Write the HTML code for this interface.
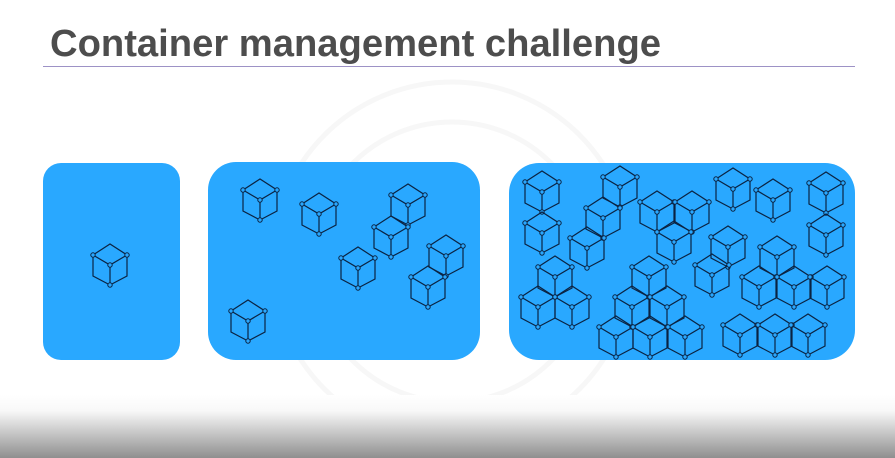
<!DOCTYPE html>
<html><head><meta charset="utf-8"><style>
html,body{margin:0;padding:0;background:#fff}
svg{display:block}
</style></head><body>
<svg width="895" height="458" viewBox="0 0 895 458" xmlns="http://www.w3.org/2000/svg">
<defs>
<linearGradient id="bg" x1="0" y1="0" x2="0" y2="1">
<stop offset="0" stop-color="#ffffff"/>
<stop offset="0.25" stop-color="#f8f8f8"/>
<stop offset="1" stop-color="#8f8f8f"/>
</linearGradient>
<g id="c" fill="none" stroke="#0b2342" stroke-width="1.2">
<path d="M-17,-10 L0,-21 L17,-10 L17,11 L0,20 L-17,11 Z"/>
<path d="M-17,-10 L0,0 L17,-10 M0,0 L0,20"/>
<g fill="#29a8ff" stroke-width="1"><circle cx="-17" cy="-10" r="2.2"/><circle cx="17" cy="-10" r="2.2"/><circle cx="0" cy="0" r="2.2"/><circle cx="0" cy="20" r="2.2"/></g>
</g>
</defs>
<g fill="none" stroke="#f7f7f7" stroke-width="5">
<circle cx="452" cy="262" r="180"/>
<circle cx="452" cy="262" r="140"/>
</g>
<rect x="0" y="395" width="895" height="63" fill="url(#bg)"/>
<text x="50" y="56" font-family="Liberation Sans, sans-serif" font-weight="bold" font-size="38" fill="#4d4d4d" textLength="611" lengthAdjust="spacingAndGlyphs">Container management challenge</text>
<line x1="43" y1="66.5" x2="855" y2="66.5" stroke="#9d92c6" stroke-width="1"/>
<rect x="43" y="163" width="137" height="197" rx="18" fill="#29a8ff"/>
<rect x="208" y="162" width="272" height="198" rx="28" fill="#29a8ff"/>
<rect x="509" y="163" width="346" height="197" rx="30" fill="#29a8ff"/>
<use href="#c" x="110" y="265"/>
<use href="#c" x="260" y="200"/>
<use href="#c" x="319" y="214"/>
<use href="#c" x="408" y="205"/>
<use href="#c" x="391" y="237"/>
<use href="#c" x="358" y="268"/>
<use href="#c" x="446" y="256"/>
<use href="#c" x="428" y="287"/>
<use href="#c" x="248" y="321"/>
<use href="#c" x="542" y="192"/>
<use href="#c" x="542" y="233"/>
<use href="#c" x="620" y="187"/>
<use href="#c" x="603" y="218"/>
<use href="#c" x="587" y="248"/>
<use href="#c" x="657" y="212"/>
<use href="#c" x="692" y="212"/>
<use href="#c" x="674" y="242"/>
<use href="#c" x="733" y="189"/>
<use href="#c" x="773" y="200"/>
<use href="#c" x="826" y="193"/>
<use href="#c" x="826" y="235"/>
<use href="#c" x="728" y="247"/>
<use href="#c" x="712" y="275"/>
<use href="#c" x="777" y="257"/>
<use href="#c" x="759" y="287"/>
<use href="#c" x="794" y="287"/>
<use href="#c" x="827" y="287"/>
<use href="#c" x="555" y="277"/>
<use href="#c" x="538" y="307"/>
<use href="#c" x="572" y="307"/>
<use href="#c" x="649" y="277"/>
<use href="#c" x="632" y="307"/>
<use href="#c" x="667" y="307"/>
<use href="#c" x="616" y="337"/>
<use href="#c" x="650" y="337"/>
<use href="#c" x="685" y="337"/>
<use href="#c" x="740" y="335"/>
<use href="#c" x="775" y="335"/>
<use href="#c" x="808" y="335"/>
</svg>
</body></html>
